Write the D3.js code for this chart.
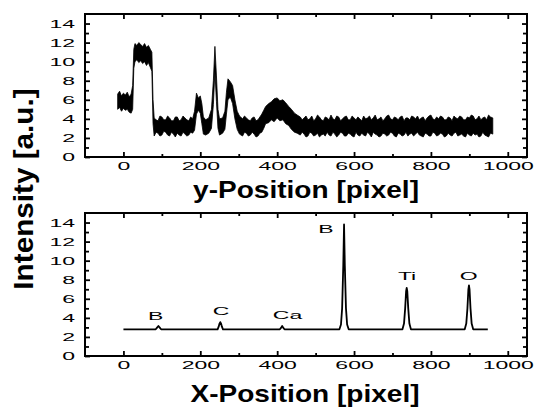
<!DOCTYPE html>
<html>
<head>
<meta charset="utf-8">
<script src="https://cdn.jsdelivr.net/npm/d3@7"></script>
<style>
  body { margin: 0; background: #fff; }
  text { font-family: "Liberation Sans", Arial, sans-serif; }
</style>
</head>
<body>
<div id="chart"></div>
<script>
// Line scan profiles: y-scan (noisy band) and x-scan (peaks)

// top panel: noisy band, [x, low edge, high edge]
const topBand = [
  [-15, 5.0, 6.6], [-10, 5.2, 6.9], [-5, 4.8, 6.4], [0, 5.1, 6.7], [5, 4.9, 6.5],
  [10, 5.0, 6.8], [15, 4.7, 6.3], [20, 4.6, 6.6], [24, 5.0, 7.5], [27, 9.3, 11.3],
  [30, 10.0, 11.9], [35, 10.2, 11.7], [40, 9.9, 12.0], [45, 10.1, 11.8], [50, 9.8, 11.6],
  [55, 10.0, 11.9], [60, 9.6, 11.5], [65, 9.9, 11.7], [70, 9.4, 11.3], [74, 9.0, 11.0],
  [77, 3.5, 6.0], [80, 2.2, 4.1], [85, 2.6, 3.9], [90, 2.5, 3.8], [95, 2.2, 4.3], [100, 2.3, 4.2],
  [105, 2.7, 3.9], [110, 2.6, 3.9], [115, 2.3, 4.3], [120, 2.2, 4.1], [125, 2.6, 3.8],
  [130, 2.4, 3.8], [135, 2.1, 4.2], [140, 2.5, 4.2], [145, 2.3, 3.8], [150, 2.2, 3.9],
  [155, 2.6, 4.3], [160, 2.4, 4.1], [165, 2.2, 3.9], [170, 2.3, 3.8], [175, 2.6, 4.2],
  [180, 2.5, 4.0], [185, 2.8, 4.8], [190, 4.5, 6.7], [195, 4.9, 6.2],
  [200, 4.6, 6.4], [204, 3.5, 5.6], [208, 2.4, 4.2], [214, 2.3, 3.9], [222, 2.5, 4.1],
  [229, 3.0, 5.0], [234, 5.5, 8.0], [238, 9.0, 11.6], [242, 5.8, 8.5], [246, 3.0, 5.0],
  [250, 2.3, 4.0], [258, 2.5, 4.1], [264, 2.9, 4.8], [268, 4.5, 6.8], [272, 6.0, 8.2],
  [278, 6.3, 7.9], [284, 5.6, 7.5], [290, 4.0, 6.0], [296, 2.9, 4.8], [302, 2.4, 4.3],
  [310, 2.2, 4.0], [315, 2.6, 4.3], [320, 2.5, 4.1], [325, 2.2, 3.9], [330, 2.3, 3.8],
  [335, 2.6, 4.1], [340, 2.4, 4.2], [345, 2.1, 3.8], [350, 2.2, 3.9], [355, 2.5, 4.2],
  [360, 2.6, 4.5], [365, 3.0, 4.9], [370, 3.5, 5.3], [378, 3.6, 5.6], [385, 3.9, 5.8],
  [392, 3.7, 6.1], [400, 4.1, 6.2], [407, 3.8, 5.9], [415, 3.9, 6.0], [422, 3.5, 5.7],
  [430, 3.3, 5.3], [437, 2.9, 5.0], [445, 2.6, 4.6], [452, 2.5, 4.4], [460, 2.3, 4.2],
  [465, 2.6, 3.9], [470, 2.4, 4.1], [475, 2.1, 4.3], [480, 2.2, 3.9], [485, 2.6, 4.0],
  [490, 2.5, 4.3], [495, 2.2, 3.8], [500, 2.3, 4.0], [505, 2.5, 4.4], [510, 2.1, 4.2],
  [515, 2.3, 3.9], [520, 2.4, 3.8], [525, 2.2, 4.2], [530, 2.6, 4.1], [535, 2.3, 3.9],
  [540, 2.2, 4.4], [545, 2.6, 4.0], [550, 2.4, 3.9], [555, 2.1, 4.3], [560, 2.3, 4.2],
  [565, 2.6, 3.8], [570, 2.5, 4.0], [575, 2.2, 4.2], [580, 2.2, 4.3], [585, 2.5, 3.9],
  [590, 2.4, 3.9], [595, 2.2, 4.3], [600, 2.1, 4.1], [605, 2.6, 3.9], [610, 2.3, 4.2],
  [615, 2.2, 4.0], [620, 2.5, 3.8], [625, 2.3, 4.3], [630, 2.2, 4.0], [635, 2.6, 4.1],
  [640, 2.4, 4.3], [645, 2.1, 3.9], [650, 2.6, 4.1], [655, 2.4, 4.4], [660, 2.3, 3.9],
  [665, 2.1, 4.0], [670, 2.2, 4.2], [675, 2.5, 3.8], [680, 2.4, 4.0], [685, 2.2, 4.3],
  [690, 2.3, 4.4], [695, 2.6, 4.0], [700, 2.5, 3.9], [705, 2.2, 4.2], [710, 2.1, 4.1],
  [715, 2.5, 3.9], [720, 2.4, 4.2], [725, 2.2, 4.3], [730, 2.3, 3.8], [735, 2.6, 4.1],
  [740, 2.2, 4.1], [745, 2.4, 3.9], [750, 2.5, 4.3], [755, 2.2, 4.2], [760, 2.4, 4.0],
  [765, 2.6, 4.3], [770, 2.3, 3.9], [775, 2.2, 4.1], [780, 2.1, 4.2], [785, 2.5, 3.8],
  [790, 2.4, 4.1], [795, 2.2, 4.3], [800, 2.2, 4.4], [805, 2.6, 4.0], [810, 2.5, 3.9],
  [815, 2.2, 4.2], [820, 2.3, 4.0], [825, 2.5, 4.3], [830, 2.4, 4.2], [835, 2.1, 3.9],
  [840, 2.2, 3.9], [845, 2.5, 4.2], [850, 2.3, 4.1], [855, 2.2, 3.8], [860, 2.5, 4.3],
  [865, 2.6, 4.1], [870, 2.2, 4.0], [875, 2.3, 4.3], [880, 2.4, 4.2], [885, 2.2, 3.9],
  [890, 2.1, 3.9], [895, 2.5, 4.2], [900, 2.3, 4.1], [905, 2.2, 4.4], [910, 2.5, 4.3],
  [915, 2.3, 3.9], [920, 2.4, 4.0], [925, 2.1, 4.3], [930, 2.2, 3.9], [935, 2.6, 4.1],
  [940, 2.3, 4.2], [945, 2.2, 3.9], [950, 2.1, 4.4], [955, 2.5, 4.2], [961, 2.4, 4.1]
];

// bottom panel: single line with element peaks, [x, intensity]
const bottomLine = [
  [0, 2.8], [84, 2.8], [87, 2.95], [91, 3.15], [95, 2.95], [98, 2.8],
  [245, 2.8], [248, 3.1], [250, 3.4], [252, 3.55], [254, 3.4], [256, 3.1], [259, 2.8],
  [407, 2.8], [410, 2.95], [413, 3.15], [416, 2.95], [419, 2.8],
  [562, 2.8], [566, 3.3], [569, 5.0], [572, 9.5], [574, 13.8], [576, 9.5], [579, 5.0], [582, 3.3], [586, 2.8],
  [726, 2.8], [730, 3.4], [733, 5.0], [735.5, 6.8], [737, 7.15], [738.5, 6.8], [741, 5.0], [744, 3.4], [748, 2.8],
  [888, 2.8], [892, 3.4], [895, 5.0], [897.5, 7.0], [899, 7.4], [900.5, 7.0], [903, 5.0], [906, 3.4], [910, 2.8],
  [948, 2.8]
];

const peakLabels = [
  {text: "B", x: 84, y: 3.75},
  {text: "C", x: 254, y: 4.3},
  {text: "Ca", x: 427, y: 3.85},
  {text: "B", x: 527, y: 12.9},
  {text: "Ti", x: 738, y: 8.0},
  {text: "O", x: 898, y: 8.0}
];

const xMajor = [0, 200, 400, 600, 800, 1000];
const xMinor = [100, 300, 500, 700, 900];
const yMajor = [0, 2, 4, 6, 8, 10, 12, 14];
const yMinor = [1, 3, 5, 7, 9, 11, 13];

const W = 537, H = 410;
const left = 85, right = 527;

const svg = d3.select("#chart").append("svg")
    .attr("width", W)
    .attr("height", H);

const x = d3.scaleLinear().domain([-100, 1050]).range([left, right]);
const yTop = d3.scaleLinear().domain([0, 15]).range([157, 14]);
const yBot = d3.scaleLinear().domain([0, 15]).range([356, 213]);

const fmt = d3.format("d");

function drawFrame(y) {
    const top = y.range()[1], bottom = y.range()[0];
    const g = svg.append("g");

    // bottom axis with labels
    g.append("g")
        .attr("transform", `translate(0,${bottom})`)
        .call(d3.axisBottom(x).tickValues(xMajor).tickFormat(fmt).tickSizeInner(-5).tickSizeOuter(0).tickPadding(5))
        .selectAll("text")
        .attr("transform", "scale(2,1)");
    g.append("g")
        .attr("transform", `translate(0,${bottom})`)
        .call(d3.axisBottom(x).tickValues(xMinor).tickSize(-3).tickFormat(""));

    // top mirror ticks
    g.append("g")
        .attr("transform", `translate(0,${top})`)
        .call(d3.axisTop(x).tickValues(xMajor).tickSize(-5).tickFormat(""));
    g.append("g")
        .attr("transform", `translate(0,${top})`)
        .call(d3.axisTop(x).tickValues(xMinor).tickSize(-3).tickFormat(""));

    // left axis with labels
    g.append("g")
        .attr("transform", `translate(${left},0)`)
        .call(d3.axisLeft(y).tickValues(yMajor).tickFormat(fmt).tickSizeInner(-5).tickSizeOuter(0).tickPadding(5))
        .selectAll("text")
        .attr("transform", "scale(2,1)");
    g.append("g")
        .attr("transform", `translate(${left},0)`)
        .call(d3.axisLeft(y).tickValues(yMinor).tickSize(-4).tickFormat(""));

    // right mirror ticks
    g.append("g")
        .attr("transform", `translate(${right},0)`)
        .call(d3.axisRight(y).tickValues(yMajor).tickSize(-5).tickFormat(""));
    g.append("g")
        .attr("transform", `translate(${right},0)`)
        .call(d3.axisRight(y).tickValues(yMinor).tickSize(-4).tickFormat(""));

    g.selectAll(".domain").remove();
    g.selectAll(".tick line").attr("stroke", "#000").attr("stroke-width", 1.8);
    g.selectAll(".tick text")
        .attr("fill", "#000")
        .style("font-size", "11.5px");

    g.append("rect")
        .attr("x", left)
        .attr("y", top)
        .attr("width", right - left)
        .attr("height", bottom - top)
        .attr("fill", "none")
        .attr("stroke", "#000")
        .attr("stroke-width", 2);
}

// top panel
const band = d3.area()
    .x(d => x(d[0]))
    .y0(d => yTop(d[1]))
    .y1(d => yTop(d[2]));

svg.append("path")
    .datum(topBand)
    .attr("d", band)
    .attr("fill", "#000")
    .attr("stroke", "#000")
    .attr("stroke-width", 0.8);

drawFrame(yTop);

// bottom panel
const line = d3.line()
    .x(d => x(d[0]))
    .y(d => yBot(d[1]));

svg.append("path")
    .datum(bottomLine)
    .attr("d", line)
    .attr("fill", "none")
    .attr("stroke", "#000")
    .attr("stroke-width", 1.8)
    .attr("stroke-linejoin", "round");

svg.selectAll(".peak-label")
    .data(peakLabels)
    .enter()
    .append("text")
    .attr("class", "peak-label")
    .attr("transform", d => `translate(${x(d.x)},${yBot(d.y)}) scale(2,1)`)
    .attr("text-anchor", "middle")
    .style("font-size", "11.5px")
    .text(d => d.text);

drawFrame(yBot);

// axis titles
svg.append("text")
    .attr("transform", "translate(306,198) scale(1.22,1)")
    .attr("text-anchor", "middle")
    .style("font-size", "23px")
    .style("font-weight", "bold")
    .text("y-Position [pixel]");

svg.append("text")
    .attr("transform", "translate(305,402) scale(1.22,1)")
    .attr("text-anchor", "middle")
    .style("font-size", "23px")
    .style("font-weight", "bold")
    .text("X-Position [pixel]");

svg.append("text")
    .attr("transform", "translate(33,189) rotate(-90) scale(1.1,1)")
    .attr("text-anchor", "middle")
    .style("font-size", "27px")
    .style("font-weight", "bold")
    .text("Intensity [a.u.]");
</script>
</body>
</html>
